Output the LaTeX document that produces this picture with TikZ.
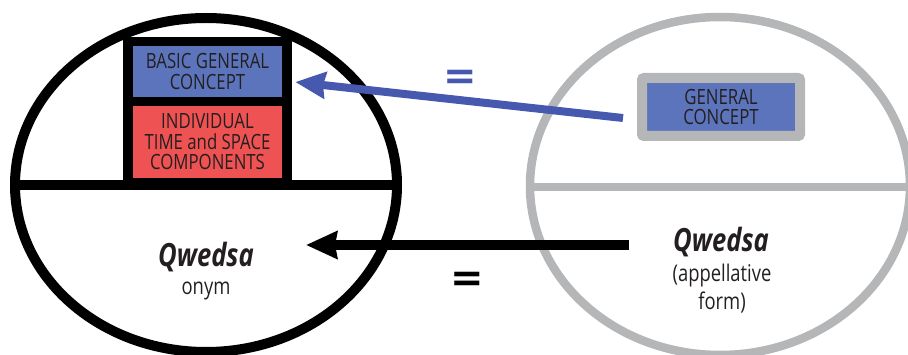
\documentclass[tikz,border=0pt]{standalone}
\usepackage{fontspec}
\setmainfont{Open Sans}[FakeStretch=0.8]
\newfontfamily\eqfont{DejaVu Sans}
\usetikzlibrary{arrows.meta}
\definecolor{bluebox}{HTML}{5C74BC}
\definecolor{redbox}{HTML}{EF5252}
\definecolor{arrowblue}{HTML}{4759AE}
\definecolor{ringgray}{HTML}{B4B6B7}
\definecolor{inkdark}{HTML}{231F20}

\begin{document}
\begin{tikzpicture}[x=1pt, y=-1pt,
    txt/.style={text=inkdark, inner sep=0pt, align=center},
    boxtxt/.style={txt, font=\fontsize{21}{20.5}\selectfont},
    nametxt/.style={txt, anchor=base, font=\fontsize{32}{32}\selectfont\bfseries\itshape},
    smalltxt/.style={txt, anchor=base, font=\fontsize{23}{23}\selectfont},
    eqsign/.style={inner sep=0pt, font=\eqfont\bfseries\fontsize{40}{40}\selectfont}]
    \clip (0,0) rectangle (908,355);

    % onym side
    \draw[line width=10pt] (206,185) ellipse [x radius=191, y radius=167];
    \draw[line width=10pt] (15,185) -- (397,185);
    \node[fill=black, inner sep=0pt, minimum width=169, minimum height=148] (frame) at (207.5,111) {};
    \node[boxtxt, fill=bluebox, minimum width=149, minimum height=51] (basic) at (207.5,71.5) {BASIC GENERAL\\CONCEPT};
    \node[boxtxt, fill=redbox, minimum width=149, minimum height=72] (indiv) at (207.5,142) {INDIVIDUAL\\TIME and SPACE\\COMPONENTS};
    \node[nametxt] (onymname) at (206,267) {Qwedsa};
    \node[smalltxt] (onym) at (206,295) {onym};

    % appellative side
    \draw[ringgray, line width=8.5pt] (720,186) ellipse [x radius=190, y radius=169];
    \draw[ringgray, line width=8.5pt] (530,187) -- (912,187);
    \node[boxtxt, draw=ringgray, line width=10pt, rounded corners=2pt, fill=bluebox,
          minimum width=158, minimum height=58] (general) at (721,107) {GENERAL\\CONCEPT};
    \node[nametxt] (appname) at (721,252) {Qwedsa};
    \node[smalltxt] (appell) at (722,282) {(appellative};
    \node[smalltxt] (form) at (722,310) {form)};

    % connections
    \draw[arrowblue, line width=8pt, -{Stealth[length=30pt, width=26pt, inset=2pt]}]
        ([xshift=-14pt, yshift=-11pt]general.west) -- ([xshift=3pt, yshift=29pt]frame.east);
    \coordinate (appout) at (629,245);
    \coordinate (onymin) at (306,245);
    \draw[line width=10pt, -{Stealth[length=31pt, width=27pt, inset=2pt]}] (appout) -- (onymin);

    \node[eqsign, text=arrowblue] (eqtop) at (460,80) {=};
    \node[eqsign, text=black] (eqbottom) at (467,282) {=};
\end{tikzpicture}
\end{document}
